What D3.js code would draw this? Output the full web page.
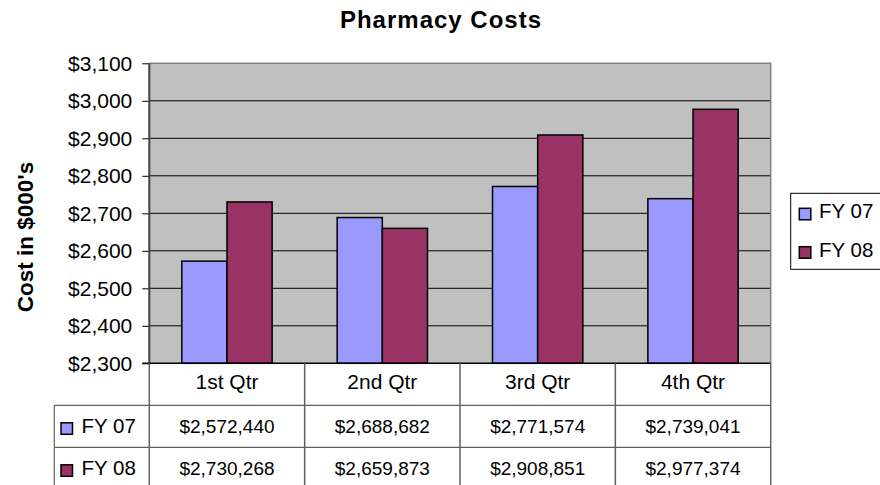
<!DOCTYPE html>
<html><head><meta charset="utf-8">
<script src="https://cdn.jsdelivr.net/npm/d3@7"></script>
<style>body{margin:0;background:#fff}svg{display:block}text{font-family:"Liberation Sans",Arial,sans-serif}</style>
</head><body><svg id="c" width="880" height="485"></svg>
<script>
const categories = ["1st Qtr", "2nd Qtr", "3rd Qtr", "4th Qtr"];
const seriesNames = ["FY 07", "FY 08"];
const fy07 = [2572440, 2688682, 2771574, 2739041];
const fy08 = [2730268, 2659873, 2908851, 2977374];
const yTicks = [2300, 2400, 2500, 2600, 2700, 2800, 2900, 3000, 3100];
const colors = ["#9999FF", "#993366"];

const svg = d3.select("#c");
const L = 149.3, R = 770.7, T = 63.3, B = 363.3;
const tableLeft = 54.3, rowH = 42;
const series = [fy07, fy08];

const x = d3.scaleBand().domain(categories).range([L, R]).padding(0);
const xs = d3.scaleBand().domain(seriesNames).range([0, x.bandwidth()]).paddingInner(0).paddingOuter(0.72);
const y = d3.scaleLinear().domain([2300, 3100]).range([B, T]);
const fmt = d3.format("$,");

// plot background
svg.append("rect").attr("x", L).attr("y", T).attr("width", R - L).attr("height", B - T).attr("fill", "#C0C0C0");

// gridlines
svg.append("g").selectAll("line").data(yTicks.slice(1, -1)).join("line")
  .attr("x1", L).attr("x2", R).attr("y1", d => y(d)).attr("y2", d => y(d))
  .attr("stroke", "#000").attr("stroke-width", 1);

// plot border top/right
svg.append("path").attr("d", `M${L},${T}H${R}V${B}`).attr("fill", "none").attr("stroke", "#808080").attr("stroke-width", 1.5);

// bars
const g = svg.append("g");
categories.forEach((c, i) => {
  seriesNames.forEach((s, j) => {
    const v = series[j][i] / 1000;
    g.append("rect")
      .attr("x", x(c) + xs(s))
      .attr("y", y(v))
      .attr("width", xs.bandwidth())
      .attr("height", B - y(v))
      .attr("fill", colors[j])
      .attr("stroke", "#000").attr("stroke-width", 1.5);
  });
});

// y axis
const yAxis = d3.axisLeft(y).tickValues(yTicks).tickFormat(d => fmt(d)).tickSize(7).tickPadding(10);
const ya = svg.append("g").attr("transform", `translate(${L},0)`).call(yAxis);
ya.select(".domain").remove();
ya.selectAll(".tick line").attr("stroke", "#000");
ya.selectAll(".tick text").attr("font-size", 21).attr("fill", "#000").attr("font-family", '"Liberation Sans",Arial,sans-serif');
svg.append("line").attr("x1", L).attr("x2", L).attr("y1", T).attr("y2", B).attr("stroke", "#404040").attr("stroke-width", 2);
svg.append("line").attr("x1", L - 7).attr("x2", R).attr("y1", B).attr("y2", B).attr("stroke", "#000").attr("stroke-width", 1.5);

// data table
const tb = svg.append("g");
const lineCol = "#606060";
[B + rowH, B + 2 * rowH].forEach(yy => {
  tb.append("line").attr("x1", tableLeft).attr("x2", R).attr("y1", yy).attr("y2", yy).attr("stroke", lineCol).attr("stroke-width", 1.2);
});
tb.append("line").attr("x1", tableLeft).attr("x2", tableLeft).attr("y1", B + rowH).attr("y2", 490).attr("stroke", lineCol).attr("stroke-width", 1.2);
const xEdges = categories.map(c => x(c)).concat([R]);
xEdges.forEach(xx => {
  tb.append("line").attr("x1", xx).attr("x2", xx).attr("y1", B).attr("y2", 490).attr("stroke", lineCol).attr("stroke-width", 1.5);
});
tb.selectAll("text.cat").data(categories).join("text").attr("class", "cat")
  .attr("x", d => x(d) + x.bandwidth() / 2).attr("y", B + 26)
  .attr("text-anchor", "middle").attr("font-size", 21).text(d => d);
seriesNames.forEach((s, j) => {
  const yy = B + rowH * (j + 1);
  tb.append("rect").attr("x", 61).attr("y", yy + 17.5).attr("width", 11.5).attr("height", 11.5)
    .attr("fill", colors[j]).attr("stroke", "#000").attr("stroke-width", 1.5);
  tb.append("text").attr("x", 81.5).attr("y", yy + 27.5).attr("font-size", 20.5).text(s);
  tb.selectAll(null).data(series[j]).join("text")
    .attr("x", (d, i) => x(categories[i]) + x.bandwidth() / 2).attr("y", yy + 27.5)
    .attr("text-anchor", "middle").attr("font-size", 19).text(d => fmt(d));
});

// legend
const lg = svg.append("g");
lg.append("rect").attr("x", 790.7).attr("y", 193.3).attr("width", 100).attr("height", 76).attr("fill", "#fff").attr("stroke", "#000").attr("stroke-width", 1);
seriesNames.forEach((s, j) => {
  const yy = 208.3 + j * 38.4;
  lg.append("rect").attr("x", 799.3).attr("y", yy).attr("width", 11.5).attr("height", 11.5)
    .attr("fill", colors[j]).attr("stroke", "#000").attr("stroke-width", 1.5);
  lg.append("text").attr("x", 819).attr("y", yy + 10).attr("font-size", 20.5).text(s);
});

// titles
svg.append("text").attr("x", 441).attr("y", 28.3).attr("text-anchor", "middle")
  .attr("font-size", 24).attr("font-weight", "bold").attr("letter-spacing", 1).text("Pharmacy Costs");
svg.append("text").attr("transform", "translate(33,237) rotate(-90)").attr("text-anchor", "middle")
  .attr("font-size", 22.5).attr("font-weight", "bold").text("Cost in $000's");
</script></body></html>
